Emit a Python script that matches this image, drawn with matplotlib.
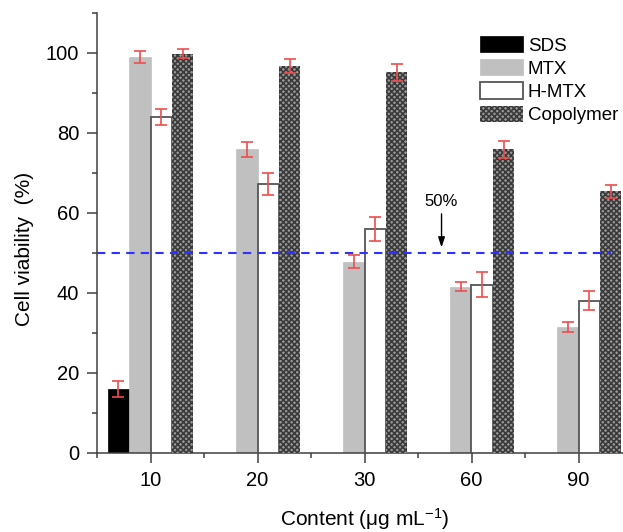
import numpy as np
import matplotlib
matplotlib.use("Agg")
import matplotlib.pyplot as plt
from matplotlib.ticker import MultipleLocator, FixedLocator

plt.rcParams['font.family'] = ['Liberation Sans', 'DejaVu Sans']
plt.rcParams['mathtext.fontset'] = 'custom'
plt.rcParams['mathtext.rm'] = 'Liberation Sans'
plt.rcParams['mathtext.it'] = 'Liberation Sans:italic'
plt.rcParams['hatch.linewidth'] = 1.2

# ---- data ----
categories = ["10", "20", "30", "60", "90"]
series_names = ["SDS", "MTX", "H-MTX", "Copolymer"]
sds = [16.0, np.nan, np.nan, np.nan, np.nan]
sds_err = [2.0, np.nan, np.nan, np.nan, np.nan]
mtx = [98.9, 75.9, 47.8, 41.6, 31.5]
mtx_err = [1.5, 1.8, 1.6, 1.1, 1.2]
hmtx = [84.0, 67.2, 56.0, 42.1, 38.1]
hmtx_err = [2.1, 2.8, 3.0, 3.1, 2.3]
copolymer = [99.8, 96.8, 95.2, 75.9, 65.4]
copolymer_err = [1.1, 1.8, 2.1, 2.1, 1.6]
threshold = 50
threshold_label = "50%"

W, H = 623, 532
fig = plt.figure(figsize=(W / 100, H / 100), dpi=100)
ax = fig.add_axes([97 / W, (H - 453) / H, 535 / W, 440 / H])

x = np.arange(1, len(categories) + 1)
width = 0.2
offsets = [-0.3, -0.1, 0.1, 0.3]
err_kw = dict(fmt='none', ecolor='#ee4d4d', elinewidth=1.2, capsize=4, capthick=1.2, zorder=5)

b1 = ax.bar(x + offsets[0], sds, width, color='black', edgecolor='black', linewidth=0.5, label=series_names[0], zorder=2)
ax.errorbar(x + offsets[0], sds, yerr=sds_err, **err_kw)
b2 = ax.bar(x + offsets[1], mtx, width, color='#c0c0c0', edgecolor='#c0c0c0', linewidth=0.5, label=series_names[1], zorder=2)
ax.errorbar(x + offsets[1], mtx, yerr=mtx_err, **err_kw)
b3 = ax.bar(x + offsets[2], hmtx, width, color='white', edgecolor='#555555', linewidth=1.3, label=series_names[2], zorder=3)
ax.errorbar(x + offsets[2], hmtx, yerr=hmtx_err, **err_kw)
b4 = ax.bar(x + offsets[3], copolymer, width, color='#9a9a9a', edgecolor='#3a3a3a', hatch='xxxxxx', linewidth=0, label=series_names[3], zorder=4)
ax.errorbar(x + offsets[3], copolymer, yerr=copolymer_err, **err_kw)

# threshold line
ax.plot([0.5, 5.3], [threshold, threshold], color='#3030ff', lw=1.5, ls=(0, (4, 3)), zorder=6)
ax.annotate('', xy=(3.72, 51.4), xytext=(3.72, 59.8),
            arrowprops=dict(arrowstyle='-|>,head_length=0.6,head_width=0.2', color='black', lw=1.0, shrinkA=0, shrinkB=0))
ax.text(3.72, 63.0, threshold_label, ha='center', va='center', fontsize=12)

ax.set_xlim(0.5, 5.5)
ax.set_ylim(0, 110)
ax.set_xticks(x)
ax.set_xticklabels(categories)
ax.xaxis.set_minor_locator(FixedLocator(np.arange(0.5, 6.0, 1.0)))
ax.set_yticks([0, 20, 40, 60, 80, 100])
ax.yaxis.set_minor_locator(MultipleLocator(10))

for s in ['top', 'right']:
    ax.spines[s].set_visible(False)
for s in ['left', 'bottom']:
    ax.spines[s].set_color('#404040')
    ax.spines[s].set_linewidth(1.1)
ax.tick_params(which='major', length=7.2, width=1.1, color='#404040', labelsize=14.5, pad=5.5)
ax.tick_params(which='minor', length=3.8, width=1.1, color='#404040')

ax.set_ylabel('Cell viability  (%)', fontsize=15)
ax.yaxis.set_label_coords((34 - 97) / 535, (453 - 249) / 440)
ax.set_xlabel('Content (μg mL$^{\\mathregular{-1}}$)', fontsize=15)
ax.xaxis.set_label_coords(0.5, (453 - 506) / 440)

leg = ax.legend(handles=[b1, b2, b3, b4], loc='upper left', bbox_to_anchor=((480 - 97) / 535, (453 - 36) / 440),
                frameon=False, fontsize=13.5, handlelength=2.3, handleheight=0.95, handletextpad=0.25,
                labelspacing=0.25, borderpad=0, borderaxespad=0)

fig.savefig('out.png', dpi=100)
